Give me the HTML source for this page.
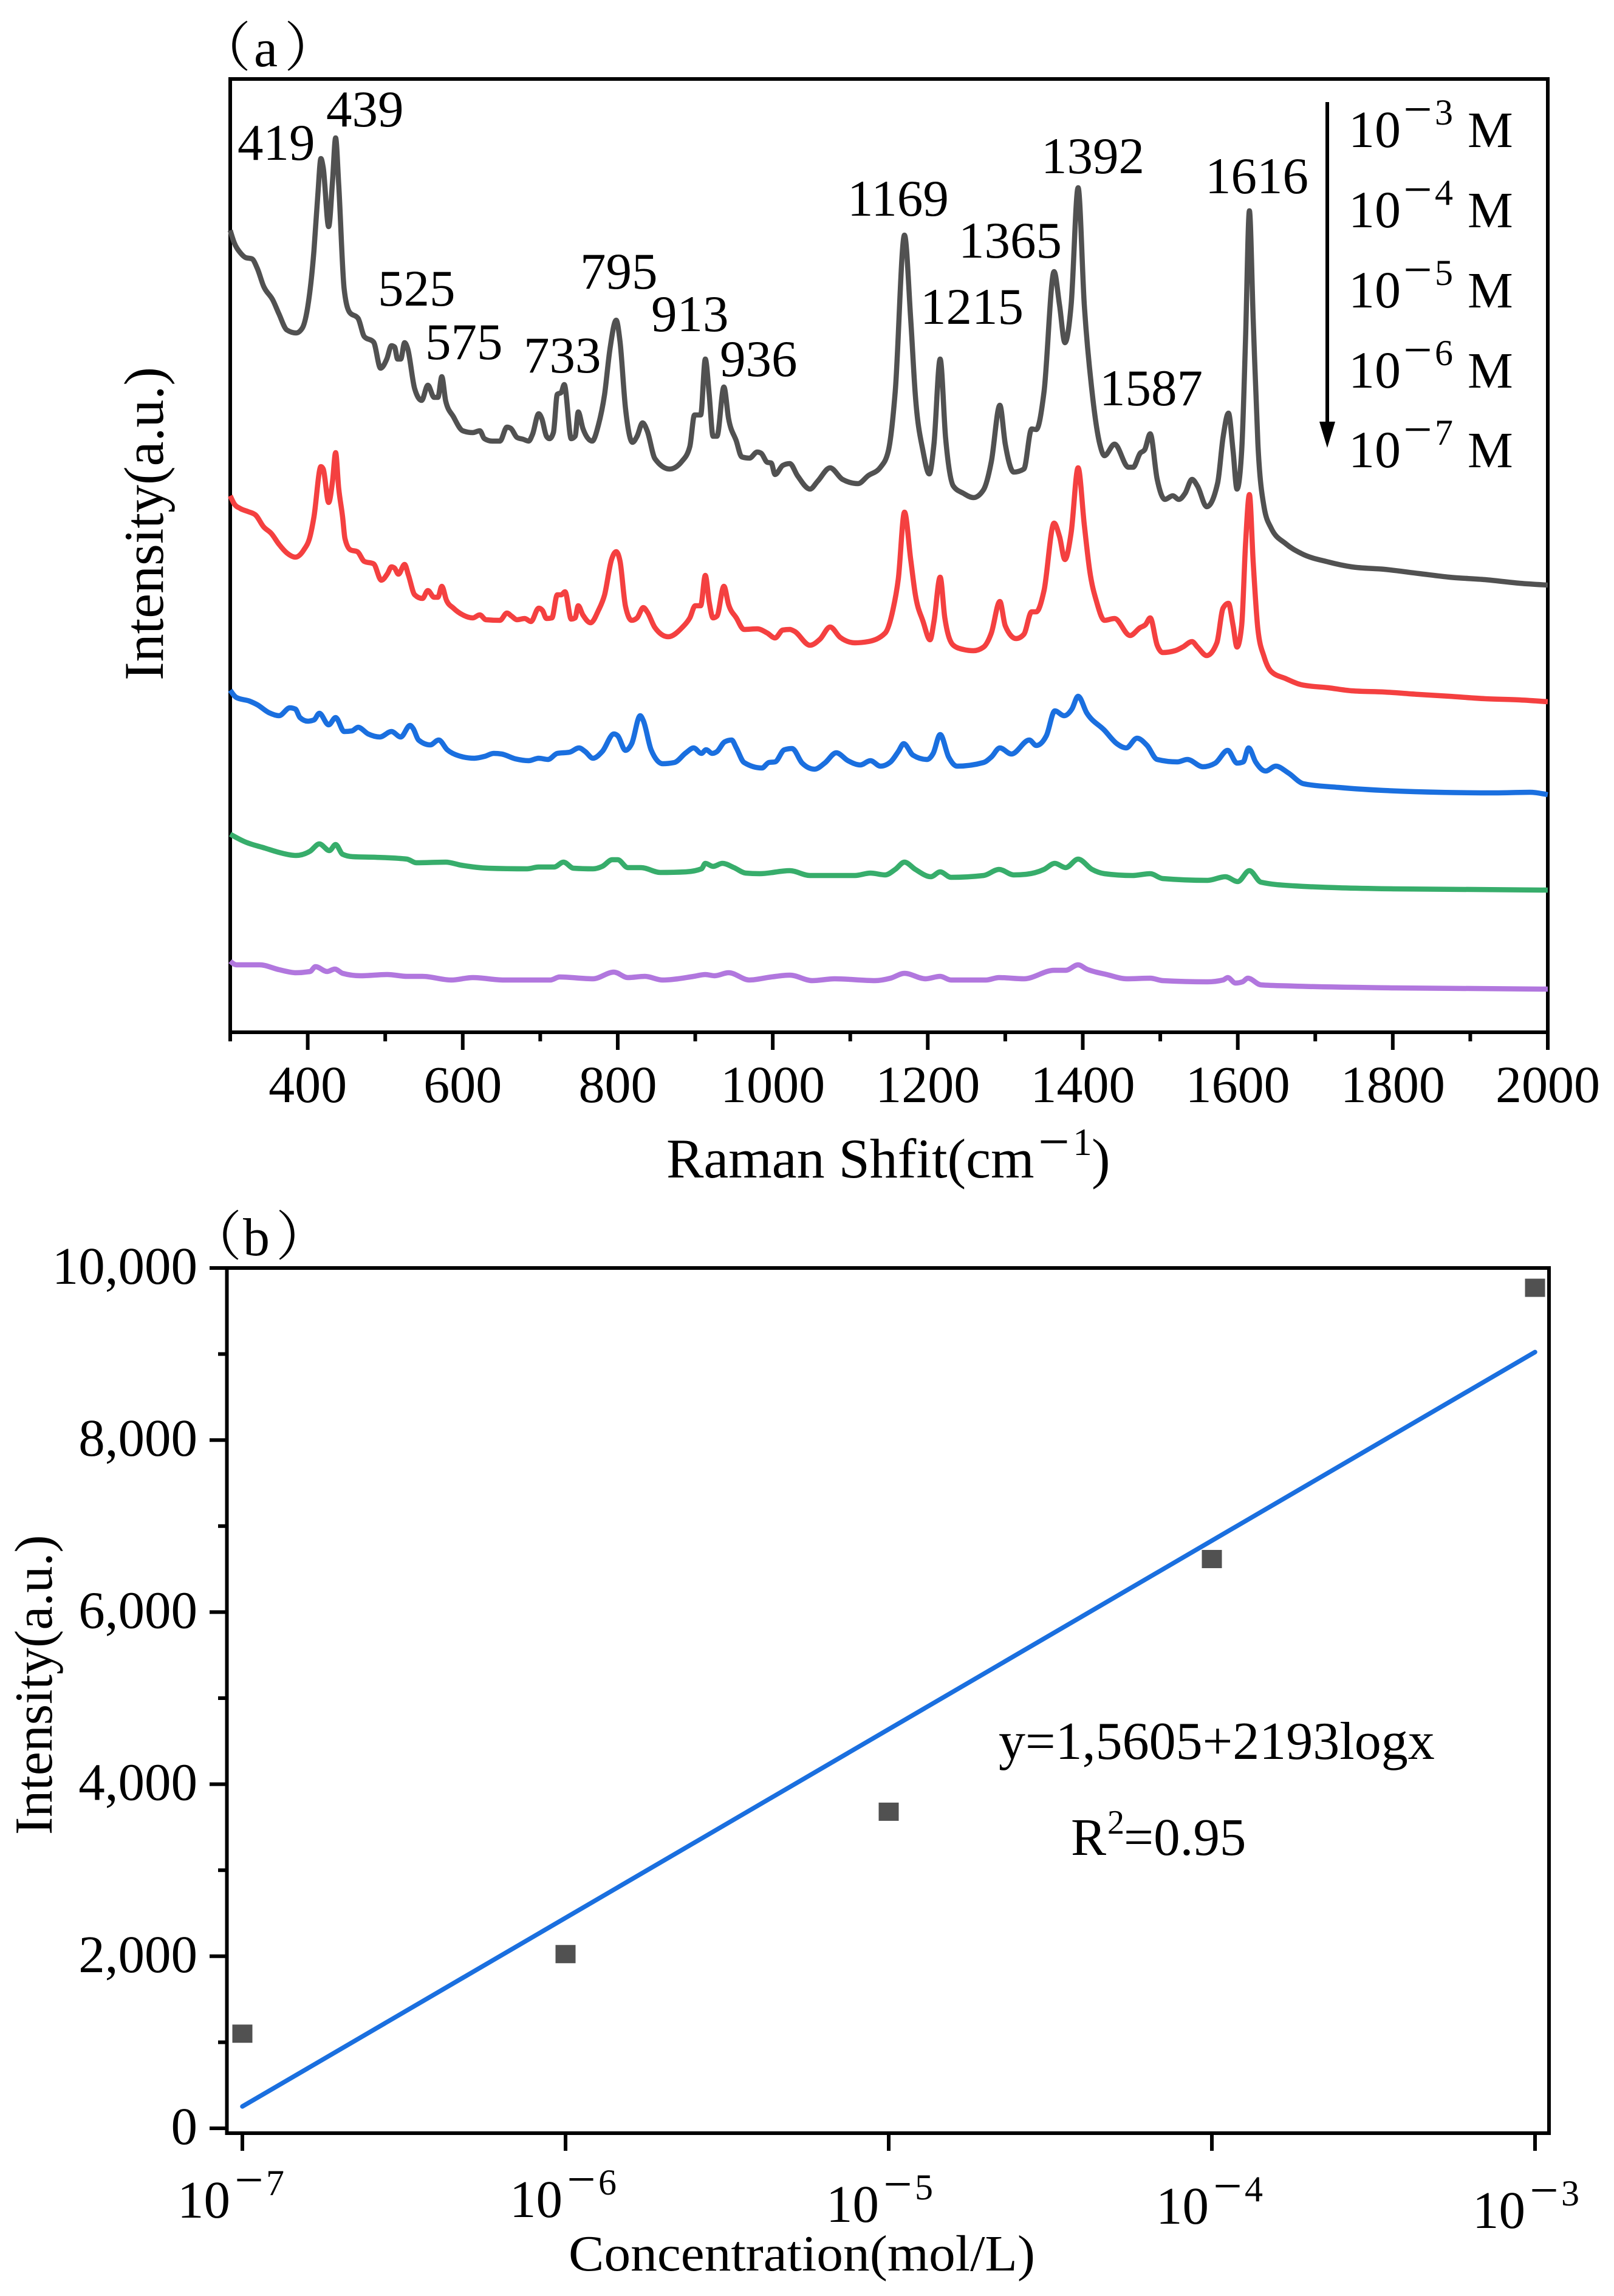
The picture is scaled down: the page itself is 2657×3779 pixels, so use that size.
<!DOCTYPE html>
<html lang="en">
<head>
<meta charset="utf-8">
<title>Raman spectra and calibration curve</title>
<style>
html,body{margin:0;padding:0;background:#fff;}
svg{display:block;}
text{font-family:"Liberation Serif","Noto Serif CJK SC",serif;fill:#000;}
</style>
</head>
<body>
<svg id="fig" xmlns="http://www.w3.org/2000/svg" width="2657" height="3779" viewBox="0 0 2657 3779">
  <rect x="0" y="0" width="2657" height="3779" fill="#fff"/>

  <text font-size="88" x="325 418 468" y="109">（a）</text>
  <rect x="379" y="130" width="2169" height="1569" fill="none" stroke="#000" stroke-width="6"/>
  <g id="panelATicks"></g>
  <g id="panelASeries"></g>

  <g font-size="85">
    <text x="391" y="263">419</text>
    <text x="537" y="208">439</text>
    <text x="622" y="503">525</text>
    <text x="700" y="591">575</text>
    <text x="862" y="613">733</text>
    <text x="955" y="475">795</text>
    <text x="1072" y="545">913</text>
    <text x="1185" y="619">936</text>
    <text x="1395" y="355">1169</text>
    <text x="1515" y="533">1215</text>
    <text x="1578" y="424">1365</text>
    <text x="1714" y="285">1392</text>
    <text x="1810" y="667">1587</text>
    <text x="1984" y="318">1616</text>
  </g>

  <line x1="2185" y1="168" x2="2185" y2="700" stroke="#000" stroke-width="6"/>
  <polygon points="2172,694 2198,694 2185,737" fill="#000"/>
  <g id="legendLabels"></g>

  <text font-size="92" x="1097" y="1938">Raman Shfit(cm</text>
  <text font-size="92" text-anchor="middle" x="1735" y="1910">−</text>
  <text font-size="63" text-anchor="middle" x="1782" y="1901">1</text>
  <text font-size="92" x="1797" y="1938">)</text>
  <text font-size="92" transform="translate(268,1120) rotate(-90)" x="0" y="0">Intensity(a.u.)</text>

  <text font-size="88" x="310 400 454" y="2066">（b）</text>
  <rect x="373.5" y="2087" width="2176.5" height="1424" fill="none" stroke="#000" stroke-width="6"/>
  <g id="panelBAxes"></g>
  <g id="panelBMarks"></g>

  <text font-size="88" x="1644" y="2895">y=1,5605+2193logx</text>
  <text font-size="87" x="1763" y="3053">R</text>
  <text font-size="56" x="1823" y="3018">2</text>
  <text font-size="87" x="1850" y="3053">=0.95</text>

  <text font-size="84" x="936" y="3737" textLength="768" lengthAdjust="spacingAndGlyphs">Concentration(mol/L)</text>
  <text font-size="88" transform="translate(85,3020) rotate(-90)" x="0" y="0">Intensity(a.u.)</text>
</svg>

<script>
// ---------- Panel (a) data: Raman shift (cm-1) and offset intensity (a.u.) ----------
const blackShift = [300,305,313,320,328,335,343,355,363,373,385,393,400,408,413,417,420,427,432,436,440,447,454,465,473,485,494,502,508,512,516,520,525,529,538,547,555,563,568,573,578,588,600,613,622,628,638,648,657,662,670,678,685,690,698,702,708,712,717,722,727,731,740,745,749,755,767,775,783,790,798,803,810,819,825,832,838,848,867,883,893,899,907,913,918,923,928,937,943,953,960,970,980,985,993,998,1003,1013,1022,1032,1048,1058,1074,1090,1110,1123,1139,1149,1158,1170,1178,1184,1194,1202,1208,1216,1223,1233,1246,1259,1272,1282,1293,1300,1311,1324,1334,1340,1350,1363,1370,1377,1385,1394,1402,1412,1422,1428,1441,1459,1465,1474,1480,1487,1496,1506,1516,1524,1532,1541,1548,1560,1574,1581,1588,1594,1599,1605,1610,1615,1620,1626,1634,1643,1662,1682,1717,1747,1789,1834,1873,1919,1964,2000];
const blackIntensity = [1319,1299,1282,1274,1272,1256,1227,1204,1181,1155,1150,1158,1193,1285,1377,1437,1422,1325,1400,1471,1394,1222,1184,1174,1144,1135,1092,1107,1129,1127,1107,1107,1134,1124,1058,1039,1064,1044,1044,1078,1038,1012,989,986,989,976,972,972,995,993,978,975,972,983,1017,1009,980,976,986,1049,1052,1065,976,980,1020,993,972,998,1049,1124,1171,1135,1026,970,980,1002,989,943,926,939,963,1015,1015,1107,1049,980,980,1061,1009,972,946,944,954,952,937,936,917,932,935,915,893,906,928,909,902,915,929,955,1053,1311,1173,1047,955,918,967,1107,978,898,886,879,892,938,1031,967,921,926,992,991,1053,1251,1196,1134,1196,1389,1196,1053,967,948,967,929,929,952,958,984,909,876,882,876,886,909,898,864,903,978,1018,955,893,955,1139,1351,1168,967,863,829,803,787,773,765,761,754,748,744,738,735];

const redShift = [300,305,313,323,333,343,353,363,373,384,395,403,408,417,420,427,432,436,440,445,448,455,464,473,485,495,503,508,512,517,525,530,538,548,555,563,568,573,579,588,600,613,622,630,648,657,663,670,680,688,698,703,708,715,722,727,732,740,745,749,755,765,775,783,792,798,803,810,818,825,833,838,848,865,883,893,900,907,913,918,923,928,937,943,953,963,980,993,1003,1013,1022,1028,1048,1061,1074,1087,1106,1123,1145,1155,1162,1170,1178,1184,1194,1203,1208,1216,1222,1233,1246,1259,1272,1282,1293,1300,1314,1324,1334,1340,1350,1363,1370,1377,1385,1394,1402,1409,1418,1428,1441,1461,1474,1481,1487,1496,1503,1519,1529,1541,1548,1560,1573,1581,1588,1594,1599,1605,1610,1615,1620,1626,1634,1643,1662,1682,1717,1747,1789,1834,1873,1919,1964,2000];
const redIntensity = [882,869,861,856,850,831,820,802,788,781,793,815,847,930,926,871,906,953,894,847,812,793,790,774,770,743,754,765,763,753,769,751,719,713,726,715,715,733,710,697,686,681,686,678,677,689,684,678,680,675,697,693,680,681,719,719,724,679,681,701,686,673,693,719,777,790,774,700,677,681,698,691,665,650,665,681,701,701,751,707,681,684,733,703,681,662,663,656,648,661,662,659,636,646,666,649,640,642,656,694,745,855,777,719,675,645,675,748,681,636,629,627,633,656,708,668,647,654,691,691,726,837,815,777,821,928,834,758,707,677,680,652,665,670,681,636,624,627,633,642,633,619,640,697,705,668,633,668,802,884,770,662,617,593,581,571,566,561,559,555,552,548,546,543];

const blueShift = [300,308,325,335,350,363,377,384,390,400,408,415,427,436,447,457,465,478,493,508,520,532,536,543,558,569,580,595,615,628,640,650,668,685,698,710,722,738,750,758,768,780,795,800,810,818,829,833,843,858,873,888,898,908,914,922,928,938,947,953,963,986,995,1003,1015,1025,1038,1054,1067,1082,1097,1113,1126,1139,1152,1162,1169,1181,1199,1207,1216,1227,1238,1272,1282,1293,1308,1331,1340,1353,1364,1376,1386,1394,1405,1428,1444,1456,1470,1483,1496,1522,1535,1555,1571,1587,1599,1607,1614,1623,1636,1649,1665,1685,1730,1828,1932,1977,2000];
const blueIntensity = [562,550,544,538,525,520,533,531,517,511,513,524,505,517,494,495,501,490,485,494,485,504,499,480,472,480,464,454,450,453,458,457,449,446,450,448,458,460,467,461,450,461,490,487,463,474,520,512,464,441,443,459,467,458,464,458,461,477,480,467,443,434,443,444,464,466,442,432,442,459,446,439,446,437,444,461,474,455,448,458,489,452,437,443,452,467,457,480,471,487,528,520,531,552,525,496,474,467,483,471,448,444,448,436,442,463,442,444,467,444,429,437,426,408,402,395,393,394,390];

const greenShift = [300,318,345,363,385,403,415,428,436,445,458,488,528,540,578,598,633,683,698,718,730,743,768,780,793,800,813,830,855,888,908,913,923,935,950,965,983,1022,1048,1106,1126,1145,1158,1170,1184,1204,1216,1230,1272,1292,1311,1327,1350,1364,1378,1394,1412,1428,1464,1487,1503,1561,1584,1600,1615,1630,1672,1802,2000];
const greenIntensity = [325,313,302,295,290,297,309,298,308,292,288,287,284,278,279,274,269,268,271,271,279,269,268,272,283,283,270,270,262,263,268,277,272,277,270,261,260,265,257,257,261,258,267,279,267,255,263,254,257,267,258,259,267,277,270,284,267,260,257,260,252,249,255,247,265,246,240,235,233];

const purpleShift = [300,308,338,363,385,403,410,425,435,445,468,503,528,548,585,613,653,713,725,768,795,813,835,858,898,913,925,943,970,998,1022,1051,1080,1132,1152,1170,1197,1216,1230,1275,1292,1324,1363,1378,1394,1405,1431,1457,1487,1503,1561,1581,1587,1597,1606,1613,1630,1672,1802,2000];
const purpleIntensity = [116,110,110,102,97,99,107,99,103,96,92,94,91,91,85,89,85,85,90,87,98,89,91,85,91,94,92,97,85,90,93,84,87,84,88,96,87,91,85,85,89,87,101,101,110,103,94,87,88,84,82,85,89,80,82,88,77,75,72,70];

const spectrumNames = ['spectrum-1e-3-M','spectrum-1e-4-M','spectrum-1e-5-M','spectrum-1e-6-M','spectrum-1e-7-M'];
const spectrumColors = ['#515151','#f44040','#1a6fdf','#37ad6b','#b177de'];
const spectrumShifts = [blackShift,redShift,blueShift,greenShift,purpleShift];
const spectrumIntensities = [blackIntensity,redIntensity,blueIntensity,greenIntensity,purpleIntensity];

const xMajorTicks = [400,600,800,1000,1200,1400,1600,1800,2000];
const xMinorTicks = [300,500,700,900,1100,1300,1500,1700,1900];
const legendExponents = ['3','4','5','6','7'];
const legendBaselines = [242,374,506,638,769];

// ---------- Panel (b) data ----------
const concentrationLog = [-7,-6,-5,-4,-3];
const concentrationLabels = ['7','6','5','4','3'];
const concentrationLabelBaselines = [3650,3649,3657,3660,3667];
const concentrationLabelNudge = [-107,-92,-103,-92,-103];
const measuredIntensity = [1100,2025,3680,6617,9770];
const fitLog = [-7,-3];
const fitIntensity = [254,9023];
const yMajorTicks = [0,2000,4000,6000,8000,10000];
const yMajorLabels = ['0','2,000','4,000','6,000','8,000','10,000'];
const yMinorTicks = [1000,3000,5000,7000,9000];

// ---------- Axis functions ----------
const NS = 'http://www.w3.org/2000/svg';
function xA(v){return 379 + (v-300)*(2548-379)/(2000-300);}
function yA(v){return 1698 - v;}
function xB(v){return 399 + (v+7)*532;}
function yB(v){return 3503 - v*(3503-2087)/10000;}

function mk(tag,parent,attrs){
  const el = document.createElementNS(NS,tag);
  for(const k in attrs){el.setAttribute(k,attrs[k]);}
  parent.appendChild(el);
  return el;
}
function tickLine(parent,name,x1,y1,x2,y2,w){
  const el = mk('line',parent,{x1:x1,y1:y1,x2:x2,y2:y2,stroke:'#000','stroke-width':w});
  
  
}
function label(parent,name,x,y,size,anchor,str){
  const el = mk('text',parent,{x:x,y:y,'font-size':size,'text-anchor':anchor});
  el.textContent = str;
  
  
}
function powerLabel(parent,name,x,baseline,exp,size,baseNudge){
  label(parent,name+'-base',x+baseNudge,baseline,size,'start','10');
  label(parent,name+'-minus',x+118,baseline-34,84,'middle','−');
  label(parent,name+'-exponent',x+161,baseline-37,60,'middle',exp);
}
// Monotone cubic path through the data points: rounds peaks without overshoot.
function smoothPath(px,py){
  const n = px.length;
  const s = [];
  const h = [];
  for(let i=0;i<n-1;i++){
    h[i] = px[i+1]-px[i];
    s[i] = (py[i+1]-py[i])/h[i];
  }
  const m = [];
  for(let i=1;i<n-1;i++){
    const p = (s[i-1]*h[i]+s[i]*h[i-1])/(h[i-1]+h[i]);
    m[i] = (Math.sign(s[i-1])+Math.sign(s[i]))*Math.min(Math.abs(s[i-1]),Math.abs(s[i]),0.5*Math.abs(p));
  }
  m[0] = (3*s[0]-m[1])/2;
  m[n-1] = (3*s[n-2]-m[n-2])/2;
  let d = 'M'+px[0].toFixed(1)+' '+py[0].toFixed(1);
  for(let i=0;i<n-1;i++){
    const c = h[i]/3;
    d += 'C'+(px[i]+c).toFixed(1)+' '+(py[i]+m[i]*c).toFixed(1)+' '+(px[i+1]-c).toFixed(1)+' '+(py[i+1]-m[i+1]*c).toFixed(1)+' '+px[i+1].toFixed(1)+' '+py[i+1].toFixed(1);
  }
  return d;
}

// ---------- Panel (a) drawing ----------
const ticksA = document.getElementById('panelATicks');
xMajorTicks.forEach(function(v){
  tickLine(ticksA,'x-tick-'+v,xA(v),1699,xA(v),1728,6);
  label(ticksA,'x-tick-label-'+v,xA(v),1814,86,'middle',String(v));
});
xMinorTicks.forEach(function(v){
  tickLine(ticksA,'x-minor-tick-'+v,xA(v),1699,xA(v),1714,6);
});

const seriesA = document.getElementById('panelASeries');
spectrumNames.forEach(function(name,i){
  const d = smoothPath(spectrumShifts[i].map(xA),spectrumIntensities[i].map(yA));
  const p = mk('path',seriesA,{d:d,fill:'none',stroke:spectrumColors[i],'stroke-width':8.5,'stroke-linejoin':'round','stroke-linecap':'butt'});
  
  
});

const legend = document.getElementById('legendLabels');
legendExponents.forEach(function(exp,i){
  powerLabel(legend,'legend-1e-'+exp,2216,legendBaselines[i],exp,86,4);
  label(legend,'legend-unit-1e-'+exp,2416,legendBaselines[i],84,'start','M');
});

// ---------- Panel (b) drawing ----------
const axesB = document.getElementById('panelBAxes');
yMajorTicks.forEach(function(v,i){
  tickLine(axesB,'y-tick-'+v,345,yB(v),374,yB(v),6);
  label(axesB,'y-tick-label-'+v,325,yB(v)+26,87,'end',yMajorLabels[i]);
});
yMinorTicks.forEach(function(v){
  tickLine(axesB,'y-minor-tick-'+v,359,yB(v),374,yB(v),6);
});
concentrationLog.forEach(function(v,i){
  tickLine(axesB,'conc-tick-'+concentrationLabels[i],xB(v),3511,xB(v),3540,6);
  powerLabel(axesB,'conc-label-1e-'+concentrationLabels[i],xB(v)+concentrationLabelNudge[i],concentrationLabelBaselines[i],concentrationLabels[i],87,0);
});

const marksB = document.getElementById('panelBMarks');
const fit = mk('line',marksB,{x1:xB(fitLog[0]),y1:yB(fitIntensity[0]),x2:xB(fitLog[1]),y2:yB(fitIntensity[1]),stroke:'#1a6fdf','stroke-width':7.5,'stroke-linecap':'round'});


concentrationLog.forEach(function(v,i){
  const pt = mk('rect',marksB,{x:xB(v)-16.5,y:yB(measuredIntensity[i])-15,width:33,height:30,fill:'#515151'});
  
  
});
</script>
</body>
</html>
